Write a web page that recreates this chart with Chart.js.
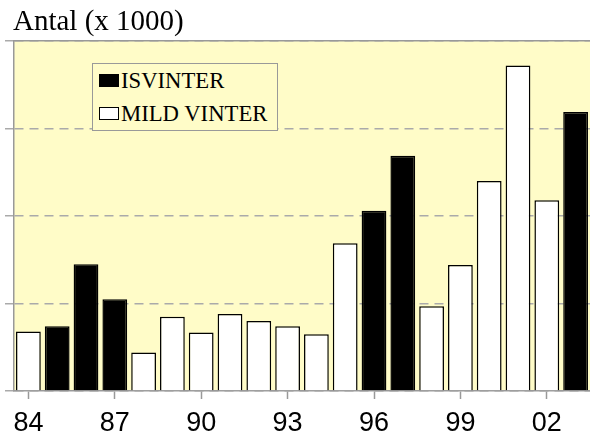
<!DOCTYPE html>
<html>
<head>
<meta charset="utf-8">
<script src="https://cdn.jsdelivr.net/npm/chart.js@4.4.0/dist/chart.umd.min.js"></script>
<style>
  html, body { margin: 0; padding: 0; background: #fff; }
  #wrap { position: relative; width: 590px; height: 435px; }
  #chart { position: absolute; left: 0; top: 0; }
  .txt { position: absolute; font-family: "Liberation Serif", "Times New Roman", serif; color: #000; line-height: 1; white-space: nowrap; }
  #title { left: 13px; top: 6px; font-size: 29px; }
  #legend { position: absolute; left: 92px; top: 63px; width: 184px; height: 66px; border: 1.5px solid #999; background: #fffcc8; }
  .sw { position: absolute; width: 18px; height: 11px; border: 1.5px solid #000; }
  .lbl { font-size: 22.7px; }
</style>
</head>
<body>
<div id="wrap">
  <canvas id="chart" width="590" height="435"></canvas>
  <div id="title" class="txt">Antal (x 1000)</div>
  <div id="legend"></div>
  <div class="sw" style="left:99px; top:74px; background:#000;"></div>
  <div class="txt lbl" style="left:121px; top:70px;">ISVINTER</div>
  <div class="sw" style="left:99px; top:107px; background:#fff;"></div>
  <div class="txt lbl" style="left:121px; top:103px;">MILD VINTER</div>
</div>
<script>
// years 1984 - 2003
const years = ["84", "85", "86", "87", "88", "89", "90", "91", "92", "93",
               "94", "95", "96", "97", "98", "99", "00", "01", "02", "03"];
const shownYears = ["84", "87", "90", "93", "96", "99", "02"];

// thousands, ice winters
const isvinter = [null, 0.74, 1.45, 1.05, null, null, null, null, null, null,
                  null, null, 2.06, 2.69, null, null, null, null, null, 3.19];
// thousands, mild winters
const mildVinter = [0.68, null, null, null, 0.44, 0.85, 0.67, 0.88, 0.80, 0.74,
                    0.65, 1.69, null, null, 0.97, 1.44, 2.40, 3.72, 2.18, null];

const yTicks = [0, 1, 2, 3, 4];

const plotBg = {
    id: "plotBg",
    beforeDraw(chart) {
        const { ctx, chartArea: a } = chart;
        ctx.save();
        ctx.fillStyle = "#fffcc8";
        ctx.fillRect(a.left, a.top, a.right - a.left, a.bottom - a.top);
        ctx.restore();
    },
};

new Chart(document.getElementById("chart"), {
    type: "bar",
    data: {
        labels: years,
        datasets: [
            { label: "ISVINTER", data: isvinter, backgroundColor: "#000", borderColor: "#000", borderWidth: 1.5 },
            { label: "MILD VINTER", data: mildVinter, backgroundColor: "#fff", borderColor: "#000", borderWidth: 1.5 },
        ],
    },
    options: {
        responsive: false,
        animation: false,
        barPercentage: 0.86,
        categoryPercentage: 1,
        layout: { padding: { left: 5, top: 41, right: 0, bottom: -13 } },
        plugins: { legend: { display: false }, title: { display: false }, tooltip: { enabled: false } },
        scales: {
            x: {
                stacked: true,
                offset: true,
                grid: {
                    drawOnChartArea: false,
                    offset: false,
                    tickLength: 8,
                    tickWidth: 1.5,
                    tickColor: ctx => shownYears.includes(years[ctx.index]) ? "#999" : "rgba(0,0,0,0)",
                },
                border: { color: "#999", width: 1.5 },
                ticks: {
                    autoSkip: false,
                    maxRotation: 0,
                    padding: 11,
                    color: "#000",
                    font: { family: "'Liberation Sans', Arial, sans-serif", size: 27, lineHeight: 1 },
                    callback: (v, i) => shownYears.includes(years[i]) ? years[i] : "",
                },
            },
            xTop: {
                type: "category",
                labels: years,
                position: "top",
                grid: { display: false, drawTicks: false },
                ticks: { display: false },
                border: { display: true, color: "#999", width: 1.5 },
            },
            y: {
                stacked: true,
                min: yTicks[0],
                max: yTicks[yTicks.length - 1],
                afterBuildTicks: axis => { axis.ticks = yTicks.map(v => ({ value: v })); },
                ticks: { display: false },
                grid: { color: "#aaa", lineWidth: 1.5, tickLength: 9, tickColor: "#aaa" },
                border: { color: "#999", width: 1.5, dash: [9, 6] },
            },
        },
    },
    plugins: [plotBg],
});
</script>
</body>
</html>
